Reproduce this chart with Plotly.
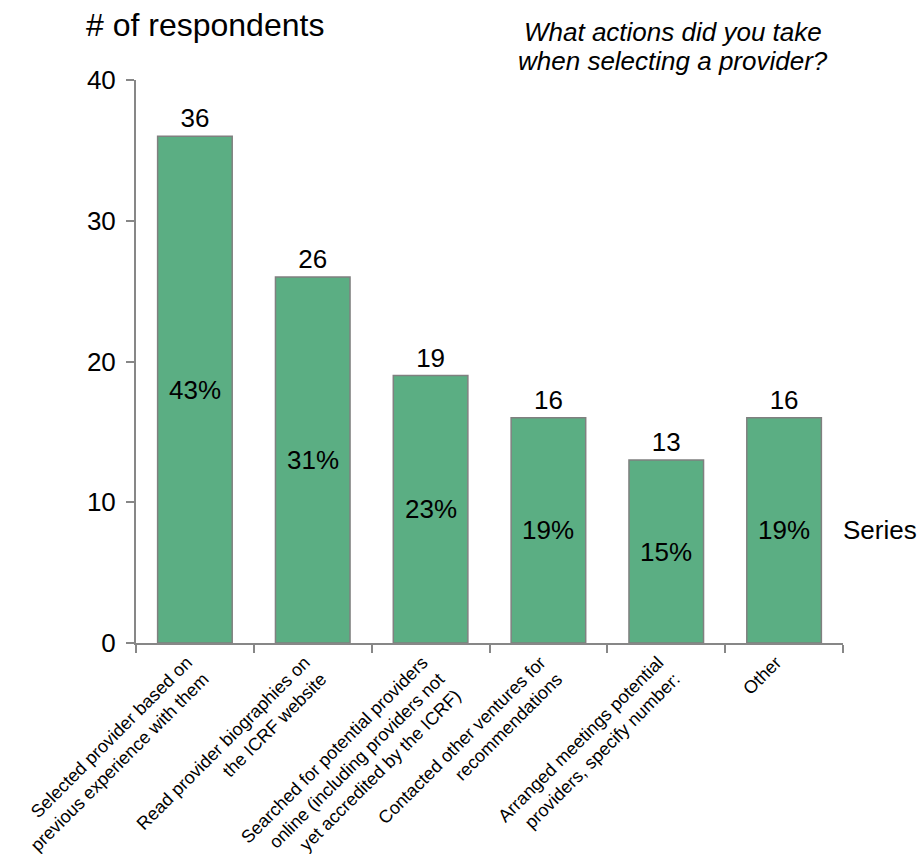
import plotly.graph_objects as go

# Survey: actions taken when selecting a provider (number of respondents)
categories = [
    "Selected provider based on<br>previous experience with them",
    "Read provider biographies on<br>the ICRF website",
    "Searched for potential providers<br>online (including providers not<br>yet accredited by the ICRF)",
    "Contacted other ventures for<br>recommendations",
    "Arranged meetings potential<br>providers, specify number:",
    "Other",
]
counts = [36, 26, 19, 16, 13, 16]
shares = ["43%", "31%", "23%", "19%", "15%", "19%"]
question_lines = ["What actions did you take", "when selecting a provider?"]

FONT = "Liberation Sans, Arial, sans-serif"
AXIS_GREY = "#878787"

fig = go.Figure()
fig.add_trace(go.Bar(
    x=categories,
    y=counts,
    text=[str(c) for c in counts],
    textposition="outside",
    textfont=dict(family=FONT, size=26, color="#000000"),
    cliponaxis=False,
    marker=dict(color="#5BAE83", line=dict(color="#808080", width=1.5)),
    showlegend=False,
))

# share labels centred inside each bar
for cat, c, s in zip(categories, counts, shares):
    fig.add_annotation(
        x=cat, y=c / 2, xref="x", yref="y", text=s, showarrow=False,
        font=dict(family=FONT, size=26, color="#000000"),
        xanchor="center", yanchor="middle",
    )

fig.add_annotation(
    x=-0.073, y=1.098, xref="paper", yref="paper", text="# of respondents",
    showarrow=False, xanchor="left", yanchor="middle",
    font=dict(family=FONT, size=32, color="#000000"),
)
for i, line in enumerate(question_lines):
    fig.add_annotation(
        x=0.76, y=1.085 - i * 0.052, xref="paper", yref="paper",
        text=f"<i>{line}</i>",
        showarrow=False, xanchor="center", yanchor="middle",
        font=dict(family=FONT, size=26, color="#000000"),
    )
fig.add_annotation(
    x=0.997, y=0.201, xref="paper", yref="paper", text="Series",
    showarrow=False, xanchor="left", yanchor="middle",
    font=dict(family=FONT, size=26, color="#000000"),
)

fig.update_layout(
    width=918, height=854,
    margin=dict(l=136, r=75, t=80, b=211, autoexpand=False),
    paper_bgcolor="white", plot_bgcolor="white",
    bargap=0.367,
    font=dict(family=FONT, color="#000000"),
    xaxis=dict(
        type="category", automargin=False,
        showline=True, linecolor=AXIS_GREY, linewidth=2,
        ticks="outside", tickson="boundaries", ticklen=8, tickwidth=2,
        tickcolor=AXIS_GREY, tickangle=-45, ticklabelshift=-8,
        tickfont=dict(family=FONT, size=18, color="#000000"),
        showgrid=False,
    ),
    yaxis=dict(
        range=[0, 40], dtick=10, automargin=False,
        showline=True, linecolor=AXIS_GREY, linewidth=2,
        ticks="outside", ticklen=8, tickwidth=2, tickcolor=AXIS_GREY,
        ticklabelstandoff=5,
        tickfont=dict(family=FONT, size=26, color="#000000"),
        showgrid=False, zeroline=False,
    ),
)

fig.write_html("out.html")
